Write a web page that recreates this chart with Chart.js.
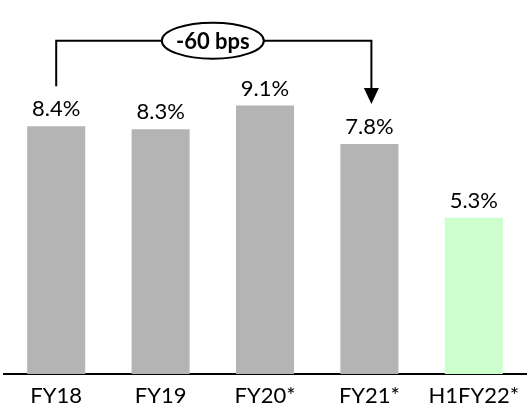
<!DOCTYPE html>
<html>
<head>
<meta charset="utf-8">
<script src="https://cdn.jsdelivr.net/npm/chart.js@4"></script>
<style>
  html, body { margin: 0; padding: 0; background: #fff; }
  canvas { display: block; }
</style>
</head>
<body>
<canvas id="chart" width="530" height="418"></canvas>
<script>
// --- Data ---
const categories = ['FY18', 'FY19', 'FY20*', 'FY21*', 'H1FY22*'];
const marginValues = [8.4, 8.3, 9.1, 7.8, 5.3];
const valueLabels = ['8.4%', '8.3%', '9.1%', '7.8%', '5.3%'];
const barColors = ['#b4b4b4', '#b4b4b4', '#b4b4b4', '#b4b4b4', '#ccffcc'];

// bracket from FY18 to FY21, labelled with the change
const changeFrom = 0;
const changeTo = 3;
const changeLabel = '-60 bps';
const bracketLevel = 11.3;

const FONT = 'Lato, "Open Sans", sans-serif';

// --- Value labels above bars ---
const valueLabelPlugin = {
  id: 'valueLabels',
  afterDatasetsDraw(chart) {
    const ctx = chart.ctx;
    const meta = chart.getDatasetMeta(0);
    ctx.save();
    ctx.font = '22px ' + FONT;
    ctx.fillStyle = '#000';
    ctx.textAlign = 'center';
    ctx.textBaseline = 'alphabetic';
    meta.data.forEach((bar, i) => {
      ctx.fillText(valueLabels[i], bar.x, bar.y - 10);
    });
    ctx.restore();
  }
};

// --- Bracket with arrow and ellipse label ---
const bracketPlugin = {
  id: 'bracket',
  afterDraw(chart) {
    const ctx = chart.ctx;
    const meta = chart.getDatasetMeta(0);
    const a = meta.data[changeFrom];
    const b = meta.data[changeTo];
    const yTop = chart.scales.y.getPixelForValue(bracketLevel);
    const startY = a.y - 40;
    const tipY = b.y - 40;
    const headLen = 16;

    ctx.save();
    ctx.strokeStyle = '#000';
    ctx.fillStyle = '#000';
    ctx.lineWidth = 2;
    ctx.beginPath();
    ctx.moveTo(a.x, startY);
    ctx.lineTo(a.x, yTop);
    ctx.lineTo(b.x + 2, yTop);
    ctx.lineTo(b.x + 2, tipY - headLen + 1);
    ctx.stroke();

    ctx.beginPath();
    ctx.moveTo(b.x + 2 - 7.5, tipY - headLen);
    ctx.lineTo(b.x + 2 + 7.5, tipY - headLen);
    ctx.lineTo(b.x + 2, tipY);
    ctx.closePath();
    ctx.fill();

    const cx = (a.x + b.x) / 2;
    ctx.beginPath();
    ctx.ellipse(cx, yTop, 51, 18, 0, 0, Math.PI * 2);
    ctx.fillStyle = '#fff';
    ctx.fill();
    ctx.stroke();

    ctx.fillStyle = '#000';
    ctx.font = 'bold 22px ' + FONT;
    ctx.textAlign = 'center';
    ctx.textBaseline = 'middle';
    ctx.fillText(changeLabel, cx, yTop + 1);
    ctx.restore();
  }
};

new Chart(document.getElementById('chart').getContext('2d'), {
  type: 'bar',
  data: {
    labels: categories,
    datasets: [{
      data: marginValues,
      backgroundColor: barColors,
      borderWidth: 0,
      barPercentage: 0.556,
      categoryPercentage: 1
    }]
  },
  options: {
    responsive: false,
    animation: false,
    devicePixelRatio: 1,
    layout: { padding: { top: 20, left: 4, right: 4, bottom: 0 } },
    plugins: {
      legend: { display: false },
      tooltip: { enabled: false }
    },
    scales: {
      x: {
        grid: { display: false },
        border: { display: true, color: '#000', width: 2 },
        afterFit(scale) { scale.height = 44; },
        ticks: {
          color: '#000',
          padding: 1,
          maxRotation: 0,
          font: { family: FONT, size: 22 }
        }
      },
      y: {
        display: false,
        min: 0,
        max: 12
      }
    }
  },
  plugins: [valueLabelPlugin, bracketPlugin]
});
</script>
</body>
</html>
